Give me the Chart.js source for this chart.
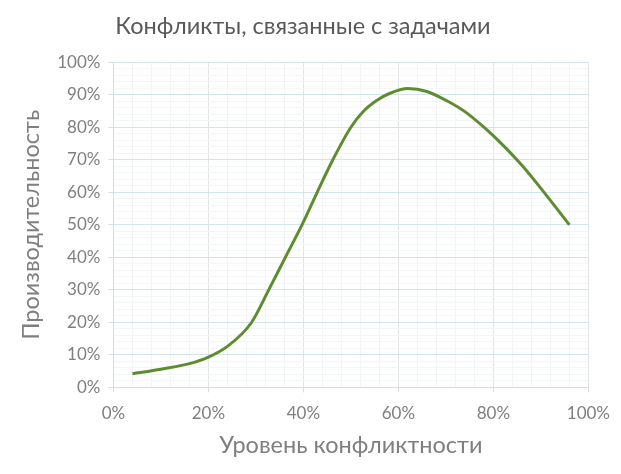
<!DOCTYPE html>
<html>
<head>
<meta charset="utf-8">
<script src="https://cdn.jsdelivr.net/npm/chart.js@4"></script>
<style>
  html, body { margin: 0; padding: 0; background: #fff; }
  #wrap { width: 621px; height: 474px; }
</style>
</head>
<body>
<div id="wrap"><canvas id="conflictChart" width="621" height="474"></canvas></div>
<script>
// Данные кривой (уровень конфликтности, %) -> (производительность, %)
const conflictLevel = [4, 10, 16, 20, 24, 29, 32.7, 36.2, 39.7, 42.9, 46.2, 50, 52.7, 55.5, 58, 62, 66, 70, 74, 78, 82, 86, 90, 96];
const productivity = [4.2, 5.6, 7.3, 9.3, 12.6, 19.8, 30, 40, 50, 60, 70, 80, 85, 88.3, 90.3, 91.9, 91, 88.3, 84.8, 80, 74.5, 68.3, 61.2, 50];

const xTickLabels = ['0%', '20%', '40%', '60%', '80%', '100%'];
const yTickLabels = ['0%', '10%', '20%', '30%', '40%', '50%', '60%', '70%', '80%', '90%', '100%'];

const chartTitle = 'Конфликты, связанные с задачами';
const xTitle = 'Уровень конфликтности';
const yTitle = 'Производительность';

const FONT = "Lato, 'Open Sans', sans-serif";

const points = conflictLevel.map((x, i) => ({ x: x, y: productivity[i] }));

const ctx = document.getElementById('conflictChart').getContext('2d');
new Chart(ctx, {
    type: 'scatter',
    data: {
        datasets: [{
            data: points,
            showLine: true,
            borderColor: '#5e8c31',
            borderWidth: 3,
            pointRadius: 0,
            cubicInterpolationMode: 'monotone'
        }]
    },
    options: {
        responsive: false,
        animation: false,
        layout: { padding: { top: 12, right: 32, bottom: 14, left: 17 } },
        plugins: {
            legend: { display: false },
            tooltip: { enabled: false },
            title: {
                display: true,
                text: chartTitle,
                color: '#595959',
                font: { family: FONT, size: 23.5, weight: 'normal' },
                padding: { top: 0, bottom: 22 }
            }
        },
        scales: {
            x: {
                type: 'linear',
                min: 0,
                max: 100,
                ticks: {
                    stepSize: 4,
                    autoSkip: false,
                    maxRotation: 0,
                    color: '#7f7f7f',
                    font: { family: FONT, size: 17 },
                    padding: 11,
                    callback: v => v % 20 === 0 ? xTickLabels[v / 20] : ''
                },
                grid: {
                    color: c => c.tick.value % 20 === 0 ? '#e2e4e5' : '#f3f5f5',
                    tickColor: c => c.tick.value % 20 === 0 ? '#dcdcdc' : 'rgba(0,0,0,0)',
                    tickLength: 5
                },
                border: { color: '#dcdcdc' },
                title: {
                    display: true,
                    text: xTitle,
                    color: '#7f7f7f',
                    font: { family: FONT, size: 23.5 },
                    padding: { top: -3, bottom: 0 }
                }
            },
            y: {
                min: 0,
                max: 100,
                ticks: {
                    stepSize: 2,
                    autoSkip: false,
                    color: '#7f7f7f',
                    font: { family: FONT, size: 17 },
                    padding: 8,
                    callback: v => v % 10 === 0 ? yTickLabels[v / 10] : ''
                },
                grid: {
                    color: c => c.tick.value % 10 === 0 ? '#d3e5ec' : '#f3f6f6',
                    tickColor: c => c.tick.value % 10 === 0 ? '#dcdcdc' : 'rgba(0,0,0,0)',
                    tickLength: 5
                },
                border: { color: '#dcdcdc' },
                title: {
                    display: true,
                    text: yTitle,
                    color: '#7f7f7f',
                    font: { family: FONT, size: 23.5 },
                    padding: { top: 0, bottom: 4 }
                }
            }
        }
    }
});
</script>
</body>
</html>
